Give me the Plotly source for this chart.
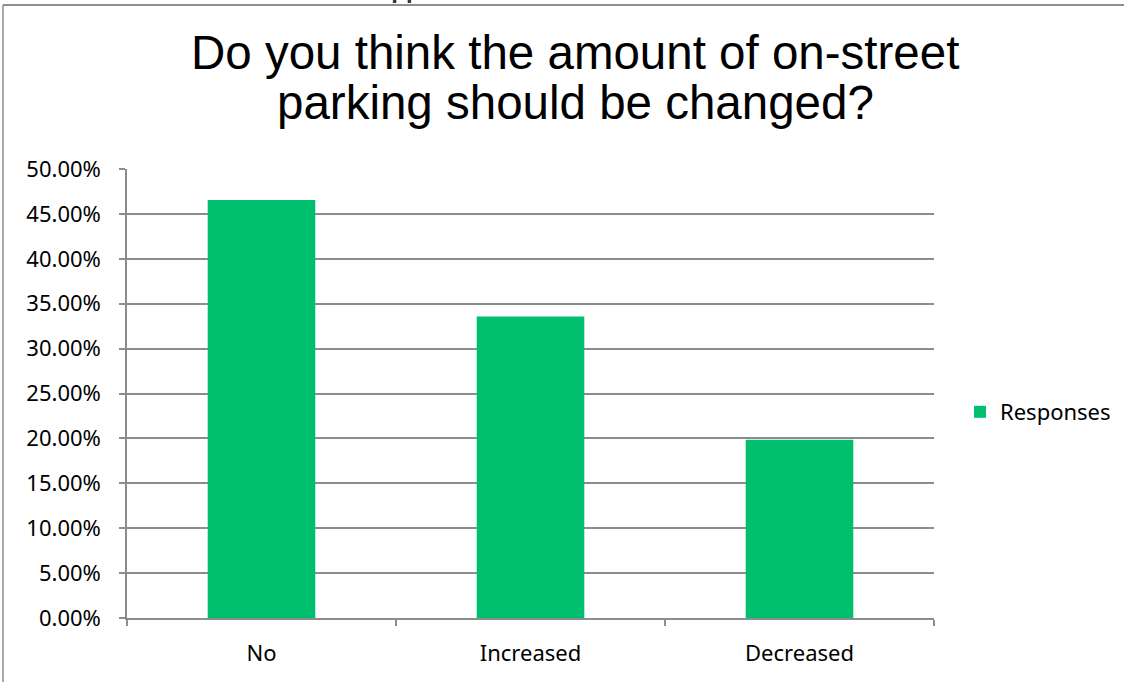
import plotly.graph_objects as go

categories = ["No", "Increased", "Decreased"]
responses = [0.4656, 0.3358, 0.1986]
series_name = "Responses"
title_lines = ["Do you think the amount of on-street", "parking should be changed?"]

W, H = 1124, 682
ML, MR, MT, MB = 127, 190, 169, 64
PW, PH = W - ML - MR, H - MT - MB


def px_x(px):
    return (px - ML) / PW


def px_y(py):
    return (H - MB - py) / PH


GREEN = "#00bf6f"
GRID = "#8c8c8c"
TICKFONT = dict(family="Noto Sans", size=22, color="#000000")

fig = go.Figure()
fig.add_trace(go.Bar(x=categories, y=responses, name=series_name,
                     marker=dict(color=GREEN, line=dict(width=0))))

fig.update_layout(
    width=W, height=H,
    margin=dict(l=ML, r=MR, t=MT, b=MB, autoexpand=False),
    paper_bgcolor="white", plot_bgcolor="white",
    bargap=0.6,
    showlegend=True,
    legend=dict(x=px_x(960), y=px_y(412), xanchor="left", yanchor="middle",
                font=TICKFONT, bgcolor="rgba(0,0,0,0)"),
    xaxis=dict(showline=True, linecolor=GRID, linewidth=1.5,
               ticks="outside", ticklen=6, tickcolor=GRID, tickwidth=1.5,
               tickson="boundaries", tickfont=TICKFONT, ticklabelstandoff=15,
               showgrid=False, fixedrange=True),
    yaxis=dict(range=[0, 0.5], dtick=0.05, tickformat=".2%",
               showline=True, linecolor=GRID, linewidth=1.5,
               ticks="outside", ticklen=6, tickcolor=GRID, tickwidth=1.5,
               showgrid=True, gridcolor=GRID, gridwidth=1.5,
               tickfont=TICKFONT, ticklabelstandoff=14, zeroline=False),
)

# Title as two lines
TITLEFONT = dict(family="Liberation Sans", size=47.5, color="#000000")
fig.add_annotation(text=title_lines[0], x=px_x(575), y=px_y(24), xref="paper", yref="paper",
                   xanchor="center", yanchor="top", showarrow=False, font=TITLEFONT)
fig.add_annotation(text=title_lines[1], x=px_x(575), y=px_y(74), xref="paper", yref="paper",
                   xanchor="center", yanchor="top", showarrow=False, font=TITLEFONT)

# Cut-off heading above the chart frame (only its descenders show)
fig.add_annotation(text="<b>Appendix</b>", x=px_x(372), y=px_y(5), xref="paper", yref="paper",
                   xanchor="left", yanchor="bottom", showarrow=False,
                   font=dict(family="Liberation Sans", size=24, color="#333333"))

# Chart frame (top and left borders), kept inside the figure
fig.add_shape(type="line", xref="paper", yref="paper",
              x0=px_x(3), x1=px_x(W), y0=px_y(5), y1=px_y(5),
              line=dict(color="#8e8e8e", width=2))
fig.add_shape(type="line", xref="paper", yref="paper",
              x0=px_x(3), x1=px_x(3), y0=px_y(5), y1=px_y(H),
              line=dict(color="#8e8e8e", width=1.5))

fig.write_html("out.html", config={"displayModeBar": False},
               post_script="document.body.style.margin='0';"
                           "document.body.style.overflow='hidden';"
                           "document.documentElement.style.overflow='hidden';")
